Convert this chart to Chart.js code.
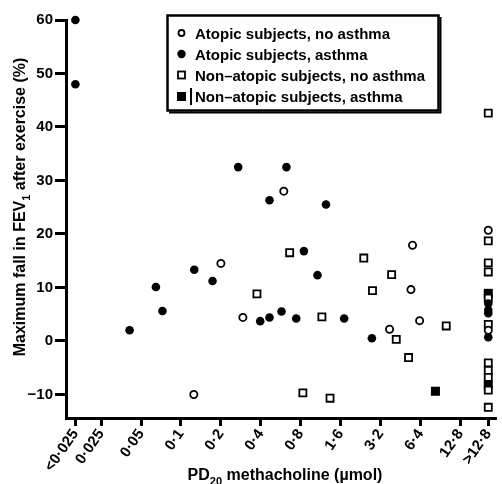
<!DOCTYPE html>
<html>
<head>
<meta charset="utf-8">
<script src="https://cdn.jsdelivr.net/npm/chart.js@4.4.0/dist/chart.umd.min.js"></script>
<style>
  html, body { margin: 0; padding: 0; background: #fff; }
</style>
</head>
<body>
<canvas id="fevChart" width="502" height="484"></canvas>
<script>
// censored doses get their own columns at the two ends of the dose axis
const LOW = 0.016;   // "<0·025"
const HIGH = 20.75;  // ">12·8"

const doseTicks = [LOW, 0.025, 0.05, 0.1, 0.2, 0.4, 0.8, 1.6, 3.2, 6.4, 12.8, HIGH];
const doseLabels = ["<0·025", "0·025", "0·05", "0·1", "0·2", "0·4", "0·8", "1·6", "3·2", "6·4", "12·8", ">12·8"];
const fallTicks = [-10, 0, 10, 20, 30, 40, 50, 60];

const groupLabels = [
  "Atopic subjects, no asthma",
  "Atopic subjects, asthma",
  "Non–atopic subjects, no asthma",
  "Non–atopic subjects, asthma"
];

// PD20 (µmol) and maximum fall in FEV1 (%) for each group
const atopicNoAsthmaDose = [0.125, 0.2, 0.293, 0.596, 5.57, 5.42, 6.3, 3.74, HIGH, HIGH];
const atopicNoAsthmaFall = [-10, 14.5, 4.4, 28.0, 17.9, 9.6, 3.8, 2.2, 20.7, 2.0];

const atopicAsthmaDose = [LOW, LOW, 0.041, 0.0647, 0.0725, 0.126, 0.173, 0.27, 0.624, 0.465, 1.24, 0.845,
  1.07, 0.396, 0.465, 0.573, 0.74, 1.70, 2.75, HIGH, HIGH, HIGH, HIGH];
const atopicAsthmaFall = [60, 48, 2.0, 10.1, 5.6, 13.3, 11.2, 32.5, 32.5, 26.3, 25.5, 16.8,
  12.3, 3.7, 4.4, 5.5, 4.2, 4.2, 0.5, 7.0, 5.8, 5.2, 0.7];

const nonAtopicNoAsthmaDose = [0.66, 0.374, 1.155, 0.83, 1.33, 2.39, 3.875, 2.78, 4.2, 5.2, 10.0,
  HIGH, HIGH, HIGH, HIGH, HIGH, HIGH, HIGH, HIGH, HIGH, HIGH, HIGH];
const nonAtopicNoAsthmaFall = [16.5, 8.8, 4.5, -9.7, -10.7, 15.5, 12.4, 9.4, 0.3, -3.1, 2.8,
  42.6, 18.7, 14.6, 12.9, 8.0, 3.1, -4.1, -5.5, -6.8, -9.2, -12.4];

const nonAtopicAsthmaDose = [8.29, HIGH, HIGH];
const nonAtopicAsthmaFall = [-9.4, 8.9, -8.1];

function toPoints(xs, ys) {
  return xs.map((x, i) => ({ x: x, y: ys[i] }));
}

const FONT = '"Liberation Sans", Arial, Helvetica, sans-serif';

// draws a string made of parts, some of them subscripts, centred on x
function drawParts(ctx, parts, cx, y, size, weight) {
  const subSize = Math.round(size * 0.68);
  let total = 0;
  parts.forEach(p => {
    ctx.font = weight + " " + (p.sub ? subSize : size) + "px " + FONT;
    p.w = ctx.measureText(p.t).width;
    total += p.w;
  });
  let x = cx - total / 2;
  parts.forEach(p => {
    ctx.font = weight + " " + (p.sub ? subSize : size) + "px " + FONT;
    ctx.fillText(p.t, x, p.sub ? y + 5 : y);
    x += p.w;
  });
}

const titlesAndLegend = {
  id: "titlesAndLegend",
  afterDraw(chart) {
    const ctx = chart.ctx;
    ctx.save();
    ctx.fillStyle = "#000";
    ctx.strokeStyle = "#000";
    ctx.textAlign = "left";
    ctx.textBaseline = "alphabetic";

    // x axis title
    drawParts(ctx, [{ t: "PD" }, { t: "20", sub: true }, { t: " methacholine (µmol)" }], 285, 480, 16, "bold");

    // y axis title
    ctx.save();
    ctx.translate(25, 207);
    ctx.rotate(-Math.PI / 2);
    drawParts(ctx, [{ t: "Maximum fall in FEV" }, { t: "1", sub: true }, { t: " after exercise (%)" }], 0, 0, 16, "bold");
    ctx.restore();

    // legend box
    ctx.lineWidth = 2.5;
    ctx.strokeRect(167.5, 15.5, 271, 95);
    ctx.lineWidth = 2;
    ctx.beginPath();
    ctx.moveTo(440.5, 17);
    ctx.lineTo(440.5, 112.5);
    ctx.lineTo(169, 112.5);
    ctx.stroke();

    const rows = [33, 54, 75, 96.5];
    const mx = 181.5;
    // open circle
    ctx.lineWidth = 1.8;
    ctx.beginPath();
    ctx.arc(mx, rows[0], 3, 0, Math.PI * 2);
    ctx.stroke();
    // filled circle
    ctx.beginPath();
    ctx.arc(mx, rows[1], 4.2, 0, Math.PI * 2);
    ctx.fill();
    // open square
    ctx.strokeRect(mx - 3.5, rows[2] - 3.5, 7, 7);
    // filled square with its bar
    ctx.fillRect(mx - 4.5, rows[3] - 4.5, 9, 9);
    ctx.lineWidth = 2;
    ctx.beginPath();
    ctx.moveTo(191, rows[3] - 8.5);
    ctx.lineTo(191, rows[3] + 8.5);
    ctx.stroke();

    ctx.font = "bold 15px " + FONT;
    groupLabels.forEach((lab, i) => {
      ctx.fillText(lab, 195, rows[i] + 5.5);
    });
    ctx.restore();
  }
};

new Chart(document.getElementById("fevChart"), {
  type: "scatter",
  data: {
    datasets: [
      {
        label: groupLabels[0],
        data: toPoints(atopicNoAsthmaDose, atopicNoAsthmaFall),
        pointStyle: "circle",
        pointRadius: 3.6,
        borderWidth: 1.8,
        borderColor: "#000",
        backgroundColor: "#fff"
      },
      {
        label: groupLabels[1],
        data: toPoints(atopicAsthmaDose, atopicAsthmaFall),
        pointStyle: "circle",
        pointRadius: 4.3,
        borderWidth: 0,
        borderColor: "#000",
        backgroundColor: "#000"
      },
      {
        label: groupLabels[2],
        data: toPoints(nonAtopicNoAsthmaDose, nonAtopicNoAsthmaFall),
        pointStyle: "rect",
        pointRadius: 5,
        borderWidth: 1.8,
        borderColor: "#000",
        backgroundColor: "#fff"
      },
      {
        label: groupLabels[3],
        data: toPoints(nonAtopicAsthmaDose, nonAtopicAsthmaFall),
        pointStyle: "rect",
        pointRadius: 6.4,
        borderWidth: 0,
        borderColor: "#000",
        backgroundColor: "#000"
      }
    ]
  },
  options: {
    responsive: false,
    animation: false,
    events: [],
    clip: false,
    layout: { padding: { top: 20, left: 0, right: 0, bottom: 0 } },
    plugins: {
      legend: { display: false },
      tooltip: { enabled: false }
    },
    scales: {
      x: {
        type: "logarithmic",
        min: 0.01359,
        max: 23.4,
        afterBuildTicks: s => { s.ticks = doseTicks.map(v => ({ value: v })); },
        afterFit: s => { s.height = 66; s.paddingLeft = 0; s.paddingRight = 0; },
        ticks: {
          autoSkip: false,
          minRotation: 55,
          maxRotation: 55,
          padding: 0,
          color: "#000",
          font: { family: FONT, size: 15, weight: "bold" },
          callback: (v, i) => doseLabels[i]
        },
        grid: { drawOnChartArea: false, drawTicks: true, tickLength: 8, lineWidth: 3, color: "#000" },
        border: { display: true, width: 3, color: "#000" }
      },
      y: {
        min: -14.4,
        max: 60,
        afterBuildTicks: s => { s.ticks = fallTicks.map(v => ({ value: v })); },
        afterFit: s => { s.width = 66; },
        ticks: {
          padding: 2,
          color: "#000",
          font: { family: FONT, size: 15, weight: "bold" },
          callback: v => (v < 0 ? "−" + Math.abs(v) : String(v))
        },
        grid: { drawOnChartArea: false, drawTicks: true, tickLength: 11, lineWidth: 3, color: "#000" },
        border: { display: true, width: 3, color: "#000" }
      }
    }
  },
  plugins: [titlesAndLegend]
});
</script>
</body>
</html>
